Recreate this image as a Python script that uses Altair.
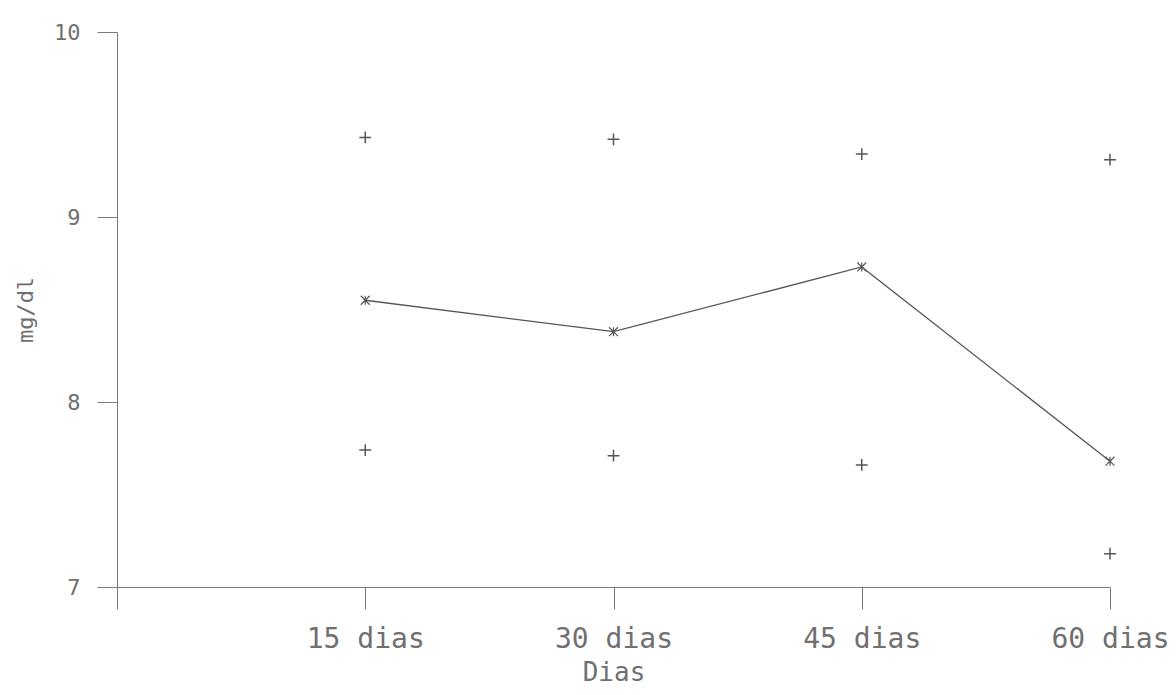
import altair as alt
import pandas as pd

days = [15, 30, 45, 60]
mean_vals = [8.55, 8.38, 8.73, 7.68]
upper_vals = [9.43, 9.42, 9.34, 9.31]
lower_vals = [7.74, 7.71, 7.66, 7.18]

df_mean = pd.DataFrame({"dia": days, "v": mean_vals})
df_bounds = pd.DataFrame({"dia": days * 2, "v": upper_vals + lower_vals})

FONT = "DejaVu Sans Mono"
TXT = "#707070"
AX = "#7a7a7a"

x_enc = alt.X(
    "dia:Q",
    scale=alt.Scale(domain=[0, 60], nice=False, zero=False),
    axis=alt.Axis(
        values=[0, 15, 30, 45, 60],
        labelExpr="datum.value == 0 ? '' : datum.value + ' dias'",
        title="Dias",
        grid=False,
        tickSize=22,
        labelPadding=16,
        titlePadding=6,
        labelFont=FONT, titleFont=FONT,
        labelFontSize=28, titleFontSize=26,
        labelColor=TXT, titleColor=TXT,
        labelFontWeight="normal",
        titleFontWeight="normal",
        domainColor=AX, tickColor=AX,
        labelFlush=False,
    ),
)
y_enc = alt.Y(
    "v:Q",
    scale=alt.Scale(domain=[7, 10], nice=False, zero=False),
    axis=alt.Axis(
        values=[7, 8, 9, 10],
        format="d",
        title="mg/dl",
        grid=False,
        tickSize=20,
        labelPadding=17,
        titlePadding=16,
        labelFont=FONT, titleFont=FONT,
        labelFontSize=22, titleFontSize=22,
        labelColor=TXT, titleColor=TXT,
        titleFontWeight="normal",
        domainColor=AX, tickColor=AX,
        labelFlush=False,
    ),
)

line = alt.Chart(df_mean).mark_line(color="#555555", strokeWidth=1.3).encode(x=x_enc, y=y_enc)
means = alt.Chart(df_mean).mark_point(
    shape="M -1 -1 L 1 1 M -1 1 L 1 -1 M 0 -1 L 0 1",
    filled=False, color="#555555", size=80, strokeWidth=1.2, opacity=1,
).encode(x="dia:Q", y="v:Q")
bounds = alt.Chart(df_bounds).mark_point(
    shape="M -1 0 L 1 0 M 0 -1 L 0 1",
    filled=False, color="#555555", size=140, strokeWidth=1.5, opacity=1,
).encode(x="dia:Q", y="v:Q")

chart = (
    alt.layer(line, means, bounds)
    .properties(
        width=993, height=555,
        autosize=alt.AutoSizeParams(type="none"),
        padding={"left": 117, "top": 32, "right": 66, "bottom": 108},
        background="white",
    )
    .configure_view(stroke=None)
)

chart.save("out.html", embed_options={"renderer": "svg", "actions": False})
